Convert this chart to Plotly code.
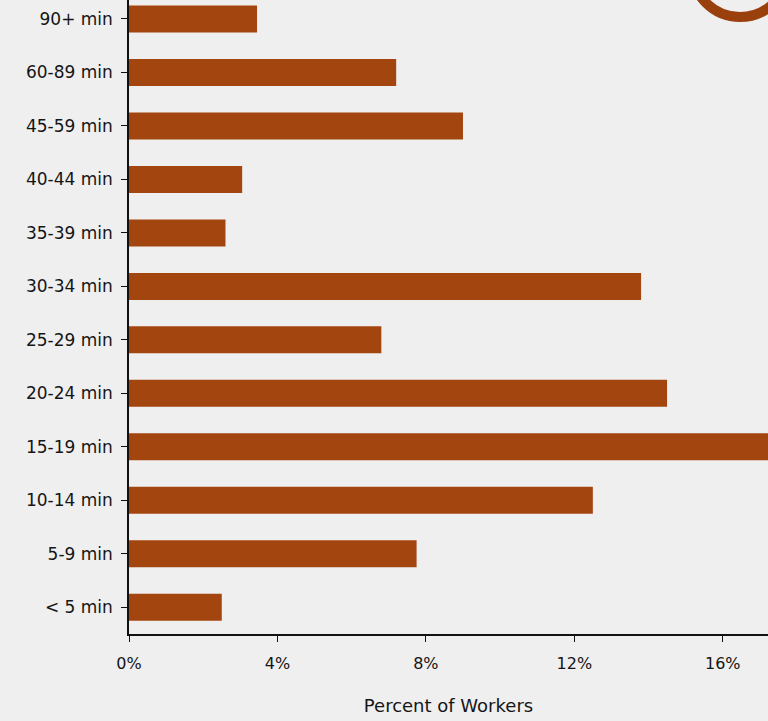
import plotly.graph_objects as go

categories = ["< 5 min", "5-9 min", "10-14 min", "15-19 min", "20-24 min", "25-29 min",
              "30-34 min", "35-39 min", "40-44 min", "45-59 min", "60-89 min", "90+ min"]
percent = [2.5, 7.75, 12.5, 17.5, 14.5, 6.8, 13.8, 2.6, 3.05, 9.0, 7.2, 3.45]
tick_vals = [0, 4, 8, 12, 16]
tick_text = ["0%", "4%", "8%", "12%", "16%"]

bar_color = "#a3450e"
bg = "#efefef"
font_family = "DejaVu Sans, sans-serif"

fig = go.Figure(go.Bar(
    y=categories, x=percent, orientation="h",
    marker=dict(color=bar_color, line=dict(width=0)),
    width=0.505,
))

fig.update_layout(
    width=768, height=721,
    margin=dict(l=129, r=0, t=0, b=87, pad=0),
    paper_bgcolor=bg, plot_bgcolor=bg,
    font=dict(family=font_family, size=16, color="#151515"),
    showlegend=False,
    xaxis=dict(range=[0, 17.22], tickvals=tick_vals, ticktext=tick_text,
               showgrid=False, zeroline=False, showline=True, linecolor="#111", linewidth=1.5,
               ticks="outside", ticklen=6, tickcolor="#111", ticklabelstandoff=8,
               title=dict(text="Percent of Workers", standoff=27, font=dict(size=18)),
               tickfont=dict(size=16)),
    yaxis=dict(range=[-0.5, 11.355], showgrid=False, zeroline=False,
               showline=True, linecolor="#111", linewidth=1.5,
               ticks="outside", ticklen=6, tickcolor="#111", ticklabelstandoff=5,
               tickfont=dict(size=17)),
    shapes=[dict(type="circle", xref="paper", yref="paper",
                 x0=0.8811, x1=1.0313, y0=0.9732, y1=1.1246,
                 line=dict(color="#9a400c", width=10), layer="above")],
)

fig.write_html("out.html", config={"displayModeBar": False},
               post_script="document.body.style.margin='0';")
